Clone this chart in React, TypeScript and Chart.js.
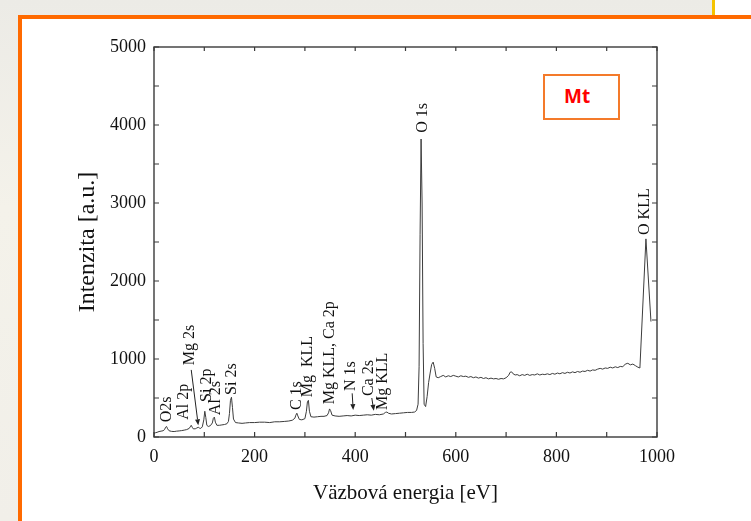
import React, { useEffect, useRef } from "react";
import { Chart, registerables } from "chart.js";
Chart.register(...registerables);

// Binding energy [eV]
const energy = [
  0, 3, 6, 10, 14, 18, 21, 23, 25, 27, 30, 35, 40, 45, 50, 55, 60, 65, 70, 72, 74, 76, 78, 82, 85, 88, 90, 93, 96, 99,
  101, 103, 105, 108, 112, 116, 118, 120, 122, 125, 130, 135, 140, 145, 148, 150, 152, 154, 156, 158, 162, 168, 175,
  182, 190, 200, 210, 220, 230, 240, 250, 260, 268, 275, 280, 282, 284, 286, 289, 294, 300, 303, 305, 307, 309, 312,
  318, 325, 332, 338, 344, 347, 349, 351, 354, 360, 368, 376, 384, 392, 400, 408, 416, 424, 432, 440, 448, 456, 460,
  463, 466, 472, 480, 488, 496, 504, 512, 518, 522, 525, 527, 529, 531, 533, 535, 537, 540, 543, 546, 549, 552, 555,
  558, 561, 565, 570, 575, 580, 585, 590, 595, 600, 605, 610, 615, 620, 625, 630, 635, 640, 645, 650, 655, 660, 665,
  670, 675, 680, 685, 690, 695, 700, 705, 708, 711, 714, 718, 722, 727, 732, 737, 742, 747, 752, 757, 762, 767, 772,
  777, 782, 787, 792, 797, 802, 807, 812, 817, 822, 827, 832, 837, 842, 847, 852, 857, 862, 867, 872, 877, 882, 887,
  892, 897, 902, 907, 912, 917, 922, 927, 932, 937, 942, 947, 952, 957, 962, 966, 978, 988,
];

// Intensity [a.u.]
const intensity = [
  45, 55, 60, 70, 75, 80, 95, 125, 135, 105, 80, 72, 70, 75, 78, 82, 88, 95, 110, 130, 150, 125, 105, 105, 115, 125, 115, 110, 130, 220,
  330, 250, 150, 135, 145, 180, 240, 255, 190, 150, 150, 155, 160, 170, 200, 300, 470, 510, 380, 230, 185, 180, 175,
  180, 185, 185, 190, 190, 185, 195, 195, 200, 205, 215, 240, 280, 305, 270, 225, 220, 235, 330, 450, 470, 330, 260,
  255, 260, 265, 265, 275, 310, 360, 340, 280, 270, 265, 270, 275, 270, 280, 275, 280, 285, 280, 290, 285, 295, 315,
  320, 305, 295, 300, 305, 310, 315, 315, 320, 340, 420, 900, 2600, 3820, 3000, 1200, 420, 390, 520, 700, 820, 930, 960,
  880, 770, 760, 775, 790, 770, 785, 775, 790, 780, 770, 785, 775, 780, 765, 775, 760, 770, 755, 765, 750, 760, 745,
  755, 745, 750, 740, 750, 745, 760, 790, 830, 835, 810, 795, 800, 785, 800, 790, 805, 790, 800, 795, 810, 795, 805,
  800, 810, 800, 815, 805, 820, 810, 825, 815, 830, 820, 835, 825, 840, 830, 845, 840, 855, 845, 860, 855, 870, 880,
  870, 885, 880, 895, 885, 900, 890, 905, 900, 935, 945, 925, 935, 915, 895, 885, 2540, 1480,
];

const xTickStep = 200;
const xMinorStep = 100;
const yTickStep = 1000;
const yMinorStep = 500;

// Peak annotations (rotated text): label, energy position, intensity of text baseline start
const peakLabels = ["O2s", "Al 2p", "Mg 2s", "Si 2p", "Al 2s", "Si 2s", "C 1s", "Mg  KLL", "Mg KLL, Ca 2p", "N 1s", "Ca 2s", "Mg KLL", "O 1s", "O KLL"];
const peakLabelEnergy = [26, 60, 72, 105, 123, 155, 284, 306, 350, 392, 427, 455, 535, 976];
const peakLabelIntensity = [190, 220, 920, 450, 280, 540, 345, 510, 420, 590, 525, 345, 3900, 2590];

// Arrows pointing to weak peaks
const arrowFromEnergy = [74, 394, 433];
const arrowFromIntensity = [860, 560, 500];
const arrowToEnergy = [88, 396, 437];
const arrowToIntensity = [150, 345, 335];

const sampleName = "Mt";

const SERIF = "'Liberation Serif', 'Times New Roman', serif";

const decorPlugin = {
  id: "decor",
  afterDatasetsDraw(chart: any) {
    const { ctx, chartArea, scales } = chart;
    const xs = scales.x;
    const ys = scales.y;
    const { left, right, top, bottom } = chartArea;
    ctx.save();
    // frame
    ctx.strokeStyle = "#3a3a3a";
    ctx.lineWidth = 1.4;
    ctx.strokeRect(left, top, right - left, bottom - top);
    // ticks
    ctx.lineWidth = 1.2;
    ctx.beginPath();
    for (let v = 0; v <= 1000; v += xMinorStep) {
      const px = xs.getPixelForValue(v);
      ctx.moveTo(px, bottom);
      ctx.lineTo(px, bottom - 5);
      ctx.moveTo(px, top);
      ctx.lineTo(px, top + 4);
    }
    for (let v = 0; v <= 5000; v += yMinorStep) {
      const py = ys.getPixelForValue(v);
      ctx.moveTo(left, py);
      ctx.lineTo(left + 5, py);
      ctx.moveTo(right, py);
      ctx.lineTo(right - 5, py);
    }
    ctx.stroke();

    // peak labels
    ctx.fillStyle = "#111";
    ctx.font = `16px ${SERIF}`;
    ctx.textAlign = "left";
    ctx.textBaseline = "middle";
    peakLabels.forEach((t, i) => {
      const px = xs.getPixelForValue(peakLabelEnergy[i]);
      const py = ys.getPixelForValue(peakLabelIntensity[i]);
      ctx.save();
      ctx.translate(px, py);
      ctx.rotate(-Math.PI / 2);
      ctx.fillText(t, 0, 0);
      ctx.restore();
    });

    // arrows
    ctx.strokeStyle = "#222";
    ctx.fillStyle = "#222";
    ctx.lineWidth = 1;
    arrowFromEnergy.forEach((_, i) => {
      const x1 = xs.getPixelForValue(arrowFromEnergy[i]);
      const y1 = ys.getPixelForValue(arrowFromIntensity[i]);
      const x2 = xs.getPixelForValue(arrowToEnergy[i]);
      const y2 = ys.getPixelForValue(arrowToIntensity[i]);
      const ang = Math.atan2(y2 - y1, x2 - x1);
      const hl = 6;
      const hw = 2.5;
      const bx = x2 - hl * Math.cos(ang);
      const by = y2 - hl * Math.sin(ang);
      ctx.beginPath();
      ctx.moveTo(x1, y1);
      ctx.lineTo(bx, by);
      ctx.stroke();
      ctx.beginPath();
      ctx.moveTo(x2, y2);
      ctx.lineTo(bx + hw * Math.sin(ang), by - hw * Math.cos(ang));
      ctx.lineTo(bx - hw * Math.sin(ang), by + hw * Math.cos(ang));
      ctx.closePath();
      ctx.fill();
    });
    ctx.restore();
  },
};

function App() {
  const canvasRef = useRef<HTMLCanvasElement | null>(null);

  useEffect(() => {
    const canvas = canvasRef.current;
    if (!canvas) return;
    const points = energy.map((e, i) => ({ x: e, y: intensity[i] }));
    const chart = new Chart(canvas, {
      type: "scatter",
      data: {
        datasets: [
          {
            data: points,
            showLine: true,
            borderColor: "#3c3c3c",
            borderWidth: 1,
            pointRadius: 0,
            tension: 0,
          },
        ],
      },
      options: {
        responsive: false,
        animation: false,
        events: [],
        layout: { padding: { left: 0, right: 94, top: 47, bottom: 0 } },
        plugins: { legend: { display: false }, tooltip: { enabled: false } },
        scales: {
          x: {
            type: "linear",
            min: 0,
            max: 1000,
            afterFit: (s: any) => {
              s.height = 84;
            },
            ticks: {
              stepSize: xTickStep,
              color: "#111",
              padding: 9,
              font: { family: SERIF, size: 18 },
              maxRotation: 0,
              callback: (v: any) => String(v),
            },
            grid: { display: false, drawTicks: false },
            border: { display: false },
            title: {
              display: true,
              text: "Väzbová energia [eV]",
              color: "#111",
              font: { family: SERIF, size: 21 },
              padding: { top: 0, bottom: 15.4 },
            },
          },
          y: {
            type: "linear",
            min: 0,
            max: 5000,
            afterFit: (s: any) => {
              s.width = 154;
            },
            ticks: {
              stepSize: yTickStep,
              color: "#111",
              padding: 8,
              font: { family: SERIF, size: 18 },
              callback: (v: any) => String(v),
            },
            grid: { display: false, drawTicks: false },
            border: { display: false },
            title: {
              display: true,
              text: "Intenzita [a.u.]",
              color: "#111",
              font: { family: SERIF, size: 24 },
              padding: { top: 73.6, bottom: 0 },
            },
          },
        },
      },
      plugins: [decorPlugin],
    });
    return () => chart.destroy();
  }, []);

  return (
    <div
      style={{
        position: "fixed",
        left: 0,
        top: 0,
        width: 751,
        height: 521,
        overflow: "hidden",
        background: "linear-gradient(180deg, #ecebe6 0%, #f4f2ea 40%, #f1efe9 100%)",
      }}
    >
      <div style={{ position: "absolute", left: 715, top: 0, width: 40, height: 16, background: "#ffffff" }} />
      <div style={{ position: "absolute", left: 712, top: 0, width: 3, height: 16, background: "#f5c300" }} />
      <div
        style={{
          position: "absolute",
          left: 18,
          top: 15,
          width: 800,
          height: 600,
          border: "4px solid #ff6a00",
          background: "#ffffff",
        }}
      />
      <canvas ref={canvasRef} width={751} height={521} style={{ position: "absolute", left: 0, top: 0 }} />
      <div
        style={{
          position: "absolute",
          left: 543,
          top: 74,
          width: 73,
          height: 42,
          border: "2px solid #f47a2a",
          background: "#ffffff",
        }}
      >
        <span
          style={{
            position: "absolute",
            left: 19,
            top: 8,
            color: "#ff0000",
            fontWeight: 700,
            fontSize: 19,
            lineHeight: "24px",
            fontFamily: "'Open Sans', 'Liberation Sans', sans-serif",
          }}
        >
          {sampleName}
        </span>
      </div>
    </div>
  );
}

export default App;
